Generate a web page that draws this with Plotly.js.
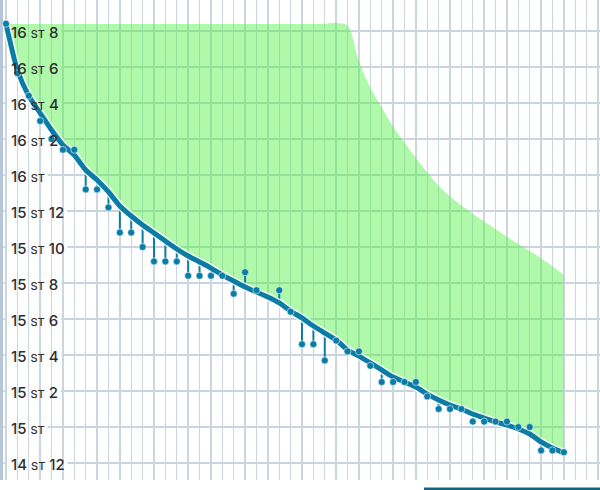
<!DOCTYPE html>
<html>
<head>
<meta charset="utf-8">
<script src="https://cdn.plot.ly/plotly-3.0.1.min.js"></script>
<style>
html,body{margin:0;padding:0;background:#fff;}
#chart{width:600px;height:490px;}
</style>
</head>
<body>
<div id="chart"></div>
<script>
// ---- data ----
const days = [1,2,3,4,5,6,7,8,9,10,11,12,13,14,15,16,17,18,19,20,21,22,23,24,25,26,27,28,29,30,31,32,33,34,35,36,37,38,39,40,41,42,43,44,45,46,47,48,49,50];
// daily weigh-ins (lb)
const weights = [232.4,229.65,228.4,227.0,226.0,225.4,225.4,223.2,223.2,222.2,
                 220.8,220.8,220.0,219.2,219.2,219.2,218.4,218.4,218.4,218.4,
                 217.4,218.6,217.6,null,217.6,216.4,214.6,214.6,213.7,214.8,
                 214.2,214.2,213.4,212.5,212.5,212.5,212.5,211.7,211.0,211.0,
                 211.0,210.3,210.3,210.3,210.3,210.0,210.0,208.7,208.7,208.6];
// smoothed trend (lb)
const trend = [232.39,229.83,228.39,227.44,226.5,225.67,225.11,224.28,223.72,223.06,
               222.28,221.72,221.22,220.78,220.33,219.89,219.5,219.17,218.83,218.44,
               218.11,217.78,217.5,217.22,216.89,216.44,216.06,215.61,215.22,214.83,
               214.28,213.94,213.56,213.17,212.78,212.5,212.22,211.83,211.5,211.22,
               211.0,210.72,210.5,210.28,210.11,209.89,209.61,209.17,208.83,208.56];
// upper edge of the green band (lb)
const upper = [232.39,232.39,232.39,232.39,232.39,232.39,232.39,232.39,232.39,232.39,
               232.39,232.39,232.39,232.39,232.39,232.39,232.39,232.39,232.39,232.39,
               232.39,232.39,232.39,232.39,232.39,232.39,232.39,232.39,232.39,232.45,
               232.3,230.3,228.85,227.75,226.7,225.8,224.95,224.15,223.4,222.8,
               222.3,221.85,221.42,221.0,220.57,220.17,219.78,219.38,218.93,218.44];
// y tick values (lb) and labels
const tickVals = [232,230,228,226,224,222,220,218,216,214,212,210,208];
const tickStones = ['16','16','16','16','16','15','15','15','15','15','15','15','14'];
const tickPounds = ['8','6','4','2','','12','10','8','6','4','2','','12'];

// ---- styles ----
const BLUE = '#0a7ca6';
const W = 600, H = 490;
const plotBottomPx = 480;
const NUM_SIZE = 15, ST_SIZE = 11;
const FONT = 'Inter, Roboto, sans-serif';

// stems
const stemX = [], stemY = [];
days.forEach((d,i)=>{
  if (weights[i] === null) return;
  stemX.push(d,d,null);
  stemY.push(trend[i],weights[i],null);
});

const traces = [
  {x:days, y:upper, mode:'lines', line:{width:0, shape:'spline', smoothing:0.9}, hoverinfo:'skip', showlegend:false},
  {x:days, y:trend, mode:'lines', line:{width:0, shape:'spline', smoothing:0.6}, fill:'tonexty',
   fillcolor:'rgba(80,240,66,0.45)', hoverinfo:'skip', showlegend:false},
  {x:stemX, y:stemY, mode:'lines', line:{color:BLUE, width:2}, hoverinfo:'skip', showlegend:false},
  {x:days, y:trend, mode:'lines', line:{color:'rgba(255,255,255,0.8)', width:8, shape:'spline', smoothing:0.6}, hoverinfo:'skip', showlegend:false},
  {x:days, y:trend, mode:'lines', line:{color:BLUE, width:5, shape:'spline', smoothing:0.6}, hoverinfo:'skip', showlegend:false},
  {x:days, y:weights, mode:'markers', marker:{color:BLUE, size:7, line:{color:'rgba(255,255,255,0.7)', width:0.8}}, hoverinfo:'skip', showlegend:false}
];

// measure label widths
const cv = document.createElement('canvas').getContext('2d');
function mw(t, size){ cv.font = size + 'px Inter'; return cv.measureText(t).width; }

const annotations = [];
const shapes = [];
tickVals.forEach((v,i)=>{
  const st = tickStones[i], lb = tickPounds[i];
  const txt = st + ' <span style="font-size:' + ST_SIZE + 'px">ST</span>' + (lb ? ' ' + lb : '');
  annotations.push({xref:'paper', yref:'y', x:9/W, y:v, xanchor:'left', yanchor:'middle',
    text:txt, showarrow:false, font:{family:FONT, size:NUM_SIZE, color:'#2e2e2e', weight:500}, yshift:-1});
  const wpx = mw(st + ' ',NUM_SIZE) + mw('ST',ST_SIZE) + (lb ? mw(' ' + lb,NUM_SIZE) : 0);
  shapes.push({type:'line', xref:'paper', yref:'y', x0:(9 + wpx + 5)/W, x1:1, y0:v, y1:v,
    line:{color:'#b8c6d4', width:1.3}, layer:'below'});
  shapes.push({type:'line', xref:'paper', yref:'y', x0:0, x1:7/W, y0:v, y1:v,
    line:{color:'#b8c6d4', width:1.3}, layer:'below'});
});
// left edge bar
shapes.push({type:'line', xref:'paper', yref:'paper', x0:1.5/W, x1:1.5/W, y0:0, y1:1,
  line:{color:'#b4c6d8', width:3}, layer:'below'});
// bottom-right control edge
shapes.push({type:'line', xref:'paper', yref:'paper', x0:424/W, x1:1, y0:-(489-plotBottomPx)/plotBottomPx, y1:-(489-plotBottomPx)/plotBottomPx,
  line:{color:'#16627e', width:3}, layer:'above'});

// axis ranges derived from pixel geometry
const pxPerDay = 11.385, firstPx = 6;
const xr = [days[0] - firstPx/pxPerDay, days[0] + (W - firstPx)/pxPerDay];
const pxPerLb = 18, topTickPx = 31;
const yr = [tickVals[0] - (plotBottomPx - topTickPx)/pxPerLb, tickVals[0] + topTickPx/pxPerLb];

const layout = {
  width:W, height:H,
  margin:{l:0, r:0, t:0, b:H - plotBottomPx, pad:0},
  paper_bgcolor:'#ffffff', plot_bgcolor:'#ffffff',
  showlegend:false,
  xaxis:{range:xr, showgrid:true, gridcolor:'#ccd6e0', gridwidth:1.4, tick0:0, dtick:1,
         showticklabels:false, zeroline:false, showline:false, ticks:'', fixedrange:true},
  yaxis:{range:yr, showgrid:false, showticklabels:false, zeroline:false, showline:false, ticks:'', fixedrange:true},
  annotations:annotations,
  shapes:shapes
};

Plotly.newPlot('chart', traces, layout, {staticPlot:true, displayModeBar:false});
</script>
</body>
</html>
